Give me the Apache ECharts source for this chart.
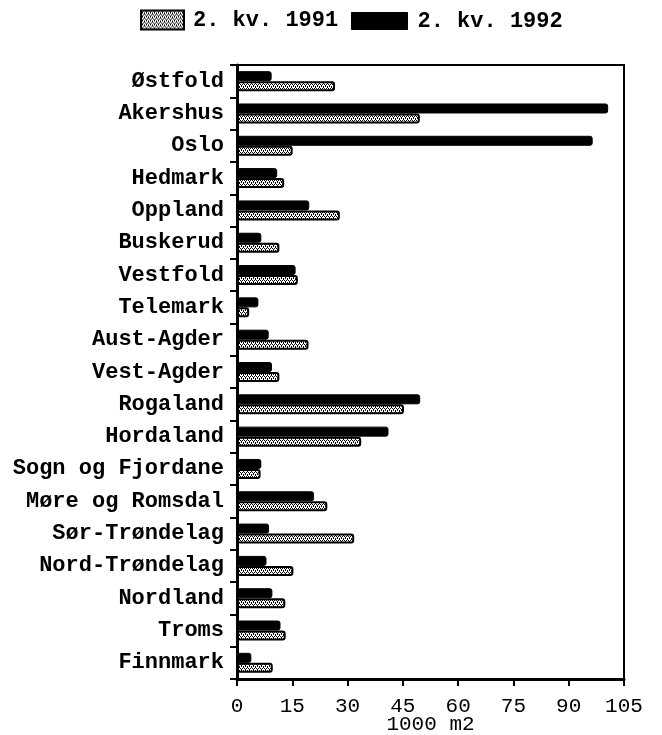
<!DOCTYPE html>
<html>
<head>
<meta charset="utf-8">
<script src="https://cdn.jsdelivr.net/npm/echarts@6/dist/echarts.min.js"></script>
<style>
html,body{margin:0;padding:0;background:#fff;}
#chart{width:662px;height:735px;}
</style>
</head>
<body>
<div id="chart"></div>
<script>
const categories = ['Østfold','Akershus','Oslo','Hedmark','Oppland','Buskerud','Vestfold','Telemark','Aust-Agder','Vest-Agder','Rogaland','Hordaland','Sogn og Fjordane','Møre og Romsdal','Sør-Trøndelag','Nord-Trøndelag','Nordland','Troms','Finnmark'];
const values1991 = [26.6, 49.6, 15.1, 12.8, 27.9, 11.5, 16.5, 3.3, 19.4, 11.5, 45.3, 33.7, 6.4, 24.5, 31.8, 15.3, 13.1, 13.2, 9.7];
const values1992 = [9.4, 100.7, 96.5, 10.9, 19.6, 6.6, 15.9, 5.8, 8.6, 9.5, 49.7, 41.1, 6.6, 20.9, 8.7, 8.0, 9.6, 11.8, 3.9];
const seriesNames = ['2. kv. 1991', '2. kv. 1992'];
const xTicks = [0, 15, 30, 45, 60, 75, 90, 105];

function makePattern() {
  const c = document.createElement('canvas');
  c.width = 4; c.height = 4;
  const g = c.getContext('2d');
  g.fillStyle = '#fff'; g.fillRect(0,0,4,4);
  g.fillStyle = '#000';
  g.fillRect(0,0,1,1); g.fillRect(2,0,1,1); g.fillRect(1,2,1,1); g.fillRect(3,2,1,1);
  g.fillRect(1,1,1,1); g.fillRect(3,3,1,1);
  return c;
}
const pat = {image: makePattern(), repeat: 'repeat'};

const mono = 'Liberation Mono';
const legendText = {fontFamily: mono, fontWeight: 'bold', fontSize: 22, color: '#000'};
const chart = echarts.init(document.getElementById('chart'));
chart.setOption({
  animation: false,
  backgroundColor: '#fff',
  legend: [
    {data: [seriesNames[0]], left: 140, top: 9, padding: 0, icon: 'rect', itemWidth: 43, itemHeight: 19, itemGap: 0,
     textStyle: Object.assign({padding: [0,0,0,4]}, legendText),
     itemStyle: {borderColor: '#000', borderWidth: 2}},
    {data: [seriesNames[1]], left: 351, top: 10, padding: 0, icon: 'rect', itemWidth: 56, itemHeight: 17, itemGap: 0,
     textStyle: Object.assign({padding: [0,0,0,5]}, legendText),
     itemStyle: {borderColor: '#000', borderWidth: 1}}
  ],
  grid: {left: 237, right: 38, top: 65, bottom: 56, show: true, borderColor: '#000', borderWidth: 2,
         containLabel: false, outerBoundsMode: 'none'},
  xAxis: {
    type: 'value', min: xTicks[0], max: xTicks[xTicks.length-1], interval: 15,
    name: '1000 m2', nameLocation: 'middle', nameGap: 35, nameMoveOverlap: false,
    nameTextStyle: {fontFamily: mono, fontSize: 21, color: '#000'},
    axisLine: {show: true, lineStyle: {color: '#000', width: 3}},
    axisTick: {show: true, length: 7, lineStyle: {color: '#000', width: 2}},
    axisLabel: {fontFamily: mono, fontSize: 21, color: '#000', margin: 17},
    splitLine: {show: false}
  },
  yAxis: {
    type: 'category', data: categories, inverse: true,
    axisLine: {show: true, lineStyle: {color: '#000', width: 3}},
    axisTick: {show: true, length: 7, lineStyle: {color: '#000', width: 2}},
    axisLabel: {fontFamily: mono, fontWeight: 'bold', fontSize: 22, color: '#000', margin: 13},
    splitLine: {show: false}
  },
  series: [
    {name: seriesNames[1], type: 'bar', data: values1992, barWidth: 10, barGap: '0%',
     itemStyle: {color: '#000', borderColor: '#000', borderWidth: 1, borderRadius: 2}},
    {name: seriesNames[0], type: 'bar', data: values1991, barWidth: 10, barGap: '0%',
     itemStyle: {color: pat, borderColor: '#000', borderWidth: 2, borderRadius: 2}}
  ]
});
</script>
</body>
</html>
